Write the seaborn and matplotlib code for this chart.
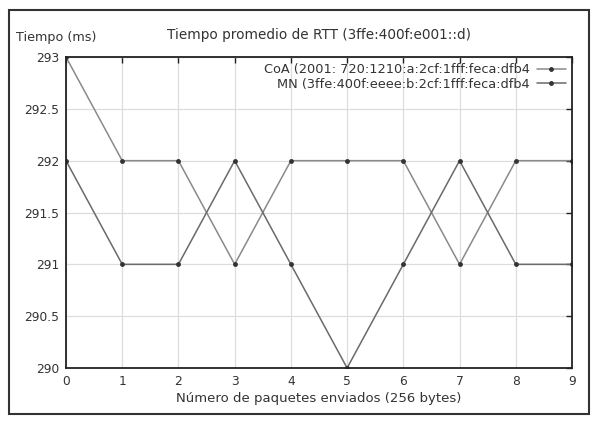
import matplotlib
matplotlib.use("Agg")
import matplotlib.pyplot as plt
import seaborn as sns
import pandas as pd
from matplotlib.patches import Rectangle

paquetes = [0, 1, 2, 3, 4, 5, 6, 7, 8, 9]
coa_ms = [293, 292, 292, 291, 292, 292, 292, 291, 292, 292]
mn_ms = [292, 291, 291, 292, 291, 290, 291, 292, 291, 291]
etiquetas = ["CoA (2001: 720:1210:a:2cf:1fff:feca:dfb4",
             "MN (3ffe:400f:eeee:b:2cf:1fff:feca:dfb4"]
y_ticks = [290, 290.5, 291, 291.5, 292, 292.5, 293]
y_tick_labels = ["290", "290.5", "291", "291.5", "292", "292.5", "293"]

df = pd.DataFrame({
    "x": paquetes * 2,
    "y": coa_ms + mn_ms,
    "serie": [etiquetas[0]] * len(paquetes) + [etiquetas[1]] * len(paquetes),
})

sns.set_theme(style="white")
plt.rcParams["font.family"] = ["DejaVu Sans"]

fig = plt.figure(figsize=(5.98, 4.22), dpi=100)
ax = fig.add_axes([66 / 598, 1 - 368 / 422, (572 - 66) / 598, (368 - 57) / 422])

sns.lineplot(data=df, x="x", y="y", hue="serie", palette=["#8a8a8a", "#6a6a6a"],
             marker="o", markersize=3.5, markeredgewidth=0, linewidth=1.1,
             ax=ax, legend=True)
for ln in ax.lines:
    ln.set_markerfacecolor("#333333")

ax.set_xlim(0, 9)
ax.set_ylim(290, 293)
ax.set_xticks(paquetes)
ax.set_yticks(y_ticks)
ax.set_yticklabels(y_tick_labels)
ax.grid(True, color="#dddddd", linewidth=0.9)
ax.tick_params(direction="in", length=4, width=1, top=True, right=True,
               labelsize=8.8, colors="#333333", pad=5)
ax.tick_params(axis="both", which="both", color="#222222")
for s in ax.spines.values():
    s.set_color("#222222")
    s.set_linewidth(1.3)

ax.set_xlabel("Número de paquetes enviados (256 bytes)", fontsize=9.5, color="#333333", labelpad=3)
ax.set_ylabel("")
fig.text(16 / 598, 1 - 37 / 422, "Tiempo (ms)", fontsize=9.2, color="#333333",
         ha="left", va="center")
ax.set_title("Tiempo promedio de RTT (3ffe:400f:e001::d)", fontsize=9.8,
             color="#333333", pad=13)

leg = ax.legend(loc="upper right", bbox_to_anchor=(1.0, 1.0), markerfirst=False,
                frameon=False, fontsize=9.3, handlelength=2.2, handletextpad=0.6,
                labelspacing=0.1, borderaxespad=0.1)
for t in leg.get_texts():
    t.set_color("#333333")
    t.set_ha("right")

fig.patches.append(Rectangle((9 / 598, 1 - 414 / 422), 580 / 598, 404 / 422,
                             transform=fig.transFigure, fill=False,
                             edgecolor="#333333", linewidth=1.5))

fig.savefig("out.png", dpi=100)
